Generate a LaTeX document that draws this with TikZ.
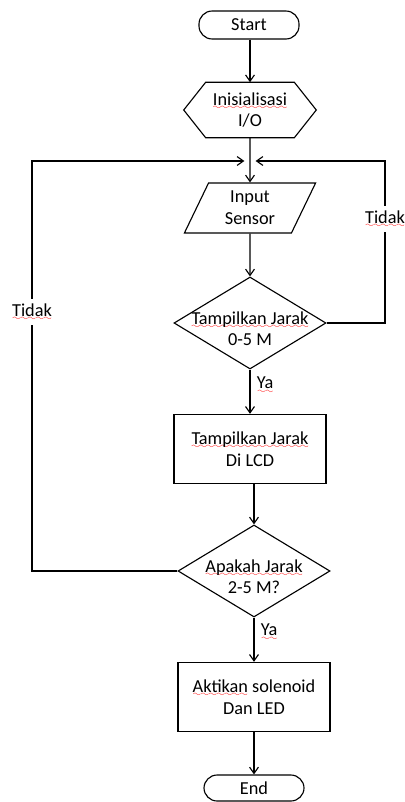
\documentclass[tikz,border=0pt]{standalone}
\usepackage{fontspec}
\setmainfont{Carlito}
\usetikzlibrary{shapes.geometric,arrows.meta}
\font\wavefont=lasy6
\newcommand{\sq}[1]{\setbox0\hbox{#1}\leavevmode\rlap{\textcolor{red}{\lower3.2pt\hbox to\wd0{\xleaders\hbox{\wavefont\char58}\hfil}}}\box0\relax}

\begin{document}
\begin{tikzpicture}[x=0.025cm,y=-0.025cm,
	every node/.style={font=\fontsize{13}{15.5}\selectfont,align=center},
	line/.style={line width=0.8pt},
	>={Straight Barb[angle=70:5.5pt]},
	term/.style={draw,line,rounded corners=0.33cm,minimum width=2.5cm,minimum height=0.7cm},
	io/.style={draw,line,trapezium,trapezium left angle=68,trapezium right angle=112,trapezium stretches=true,minimum width=3.3cm,minimum height=1.25cm},
	decision/.style={draw,line,diamond,inner sep=0pt,minimum width=3.8cm,minimum height=2.3cm},
	proc/.style={draw,line,rectangle,minimum width=3.8cm,minimum height=1.73cm},
	lab/.style={fill=white,inner sep=3pt}]
	\useasboundingbox (0,0) rectangle (405,802);
	%nodes
	\node[term] (start) at (249,25) {Start};
	\node[minimum width=2.2cm,minimum height=1.375cm] (init) at (250,110) {\sq{Inisialisasi}\\I/O};
	\draw[line] (init.north west) -- (init.north east) -- ([xshift=0.55cm]init.east) -- (init.south east) -- (init.south west) -- ([xshift=-0.55cm]init.west) -- cycle;
	\coordinate (join) at (250,161);
	\node[io] (input) at (250,208) {Input\\Sensor};
	\node[decision] (range) at (250,323) {};
	\node (rangetxt) at ([yshift=-4pt]range.center) {\sq{Tampilkan Jarak}\\0-5 M};
	\node[proc] (show) at (250,449) {\sq{Tampilkan Jarak}\\Di LCD};
	\node[decision] (check) at (254,571) {};
	\node (checktxt) at ([yshift=-4pt]check.center) {\sq{Apakah Jarak}\\2-5 M?};
	\node[proc] (act) at (254,697) {\sq{Aktikan} solenoid\\Dan LED};
	\node[term,minimum height=0.65cm] (end) at (254,788) {End};
	%main flow
	\draw[->,line] (start.south -| init.north) -- (init.north);
	\draw[->,line] (init) -- (input);
	\draw[->,line] (input) -- (range);
	\draw[->,line] (range) -- (show);
	\draw[->,line] (show.south -| check.north) -- (check.north);
	\draw[->,line] (check) -- (act);
	\draw[->,line] (act) -- (end);
	%loops back
	\coordinate (rgt) at (385,161);
	\coordinate (lft) at (32,161);
	\draw[->,line] (range.east) -| (rgt) -- ([xshift=4pt]join);
	\draw[->,line] (check.west) -| (lft) -- ([xshift=-4pt]join);
	%text
	\node[lab] (no1) at (385,219) {\sq{Tidak}};
	\node[lab] (no2) at (32,312) {\sq{Tidak}};
	\node[anchor=west] (yes1) at (252,385) {\sq{Ya}};
	\node[anchor=west] (yes2) at (256,632) {\sq{Ya}};
\end{tikzpicture}
\end{document}
